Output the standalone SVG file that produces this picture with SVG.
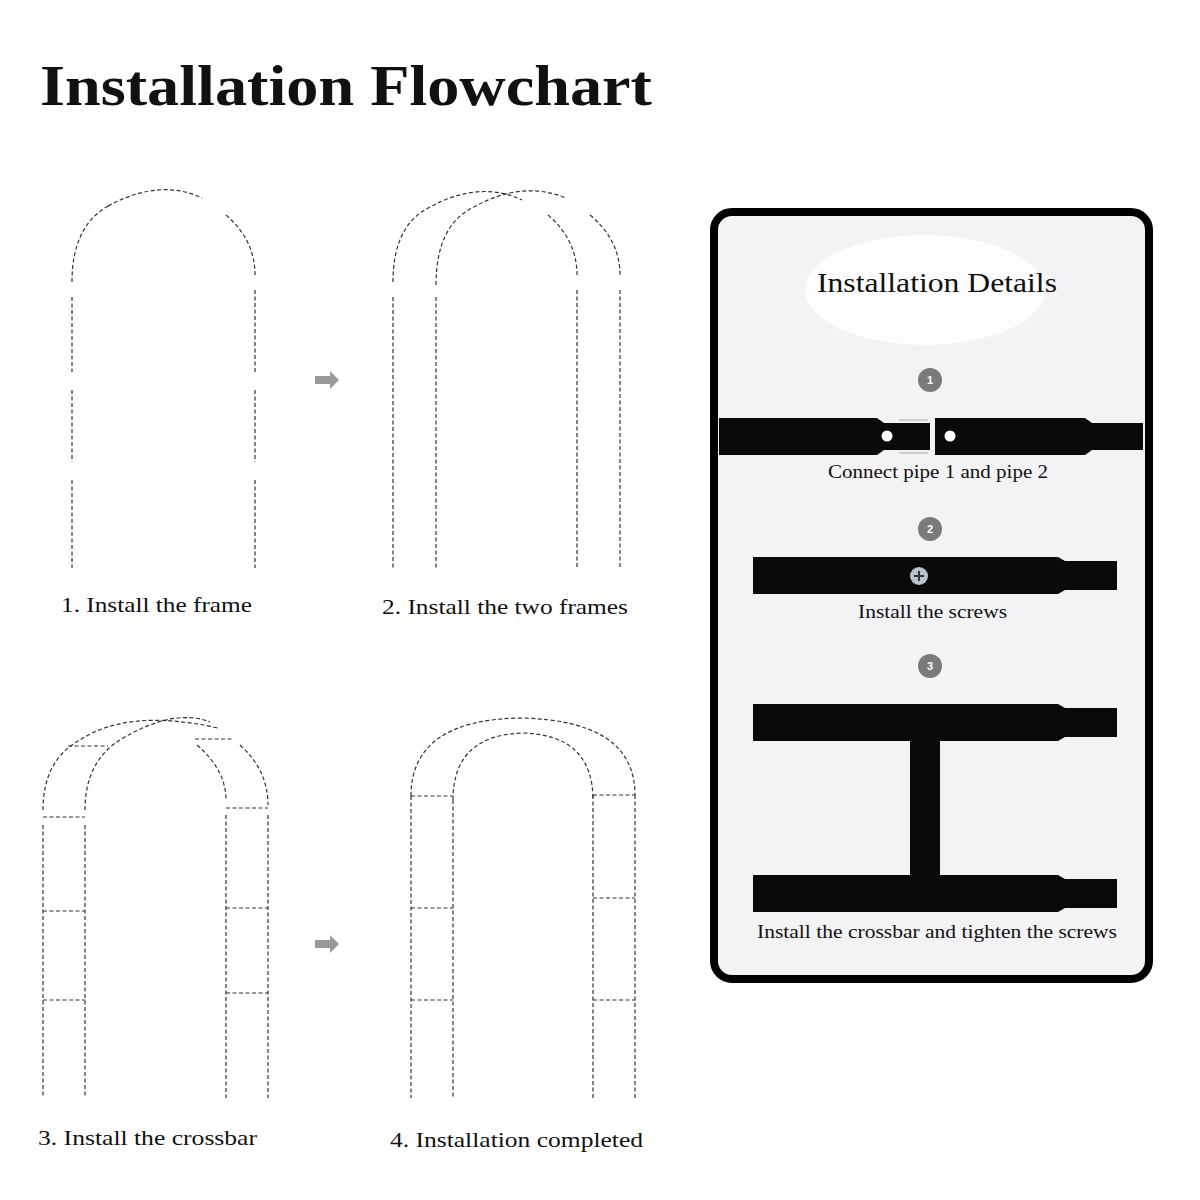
<svg xmlns="http://www.w3.org/2000/svg" width="1200" height="1200" viewBox="0 0 1200 1200">
<style>
.d{fill:none;stroke:#333;stroke-width:1.2;stroke-dasharray:4 2.5}
.t{font-family:"Liberation Serif",serif;fill:#111}
.p{fill:#0a0a0a}
.n{fill:#7a7a7a}
.nt{font-family:"Liberation Sans",sans-serif;font-size:11px;fill:#fff;text-anchor:middle;font-weight:bold}
.ar{fill:#999}
.ar2{fill:#ccc}
</style>
<rect width="1200" height="1200" fill="#fff"/>
<text class="t" x="40" y="105" font-size="56" font-weight="bold" textLength="612" lengthAdjust="spacingAndGlyphs">Installation Flowchart</text>

<g id="frame1">
<path class="d" d="M72,282 Q72,225 110,205"/>
<path class="d" d="M108,206 Q160,178 202,198"/>
<path class="d" d="M226,215 Q255,240 255,275"/>
<path class="d" d="M72,297V372M72,390V462M72,480V568M255,290V372M255,390V462M255,480V568"/>
<text class="t" x="61" y="612" font-size="22" textLength="191" lengthAdjust="spacingAndGlyphs">1. Install the frame</text>
</g>

<g id="frame2">
<path class="d" d="M393,282 Q393,225 430,207 Q480,180 522,200"/>
<path class="d" d="M436,285 Q436,225 474,207 Q522,180 566,198"/>
<path class="d" d="M548,215 Q577,240 577,275"/>
<path class="d" d="M590,215 Q620,240 620,275"/>
<path class="d" d="M393,297V568M436,297V568M577,290V568M620,290V568"/>
<text class="t" x="382" y="614" font-size="22" textLength="246" lengthAdjust="spacingAndGlyphs">2. Install the two frames</text>
</g>

<g id="frame3">
<path class="d" d="M43,810 Q43,760 80,740 Q128,708 218,728"/>
<path class="d" d="M85,810 Q85,760 123,738 Q175,708 210,722"/>
<path class="d" d="M197,745 Q226,770 226,800"/>
<path class="d" d="M240,745 Q268,770 268,805"/>
<path class="d" d="M68,746H108M195,739H232"/>
<path class="d" d="M43,817H85M43,911H85M43,1000H85M226,808H268M226,908H268M226,993H268"/>
<path class="d" d="M43,825V1098M85,825V1098M226,815V1098M268,815V1098"/>
<text class="t" x="38" y="1145" font-size="22" textLength="219" lengthAdjust="spacingAndGlyphs">3. Install the crossbar</text>
</g>

<g id="frame4">
<path class="d" d="M411,796 Q411,720 520,718 Q635,720 635,795"/>
<path class="d" d="M453,800 Q453,735 523,733 Q593,735 593,800"/>
<path class="d" d="M411,796H453M411,908H453M411,1000H453M593,795H635M593,898H635M593,1000H635"/>
<path class="d" d="M411,796V1098M453,800V1098M593,795V1098M635,795V1098"/>
<text class="t" x="390" y="1147" font-size="22" textLength="253" lengthAdjust="spacingAndGlyphs">4. Installation completed</text>
</g>

<g id="connectors">
<path class="ar" d="M315,376H330V371L339,380L330,389V384H315Z"/>
<path class="ar" d="M315,940H330V935L339,944L330,953V948H315Z"/>
<path class="ar2" d="M927,490H933V499H937L930,506L923,499H927Z"/>
<path class="ar2" d="M927,628H933V635H937L930,642L923,635H927Z"/>
</g>

<g id="details">
<rect x="714" y="212" width="435" height="767" rx="18" fill="#f3f2f4" stroke="#000" stroke-width="8"/>
<ellipse cx="925" cy="290" rx="120" ry="55" fill="#fff" opacity="0.8"/>
<text class="t" x="817" y="292" font-size="28" textLength="240" lengthAdjust="spacingAndGlyphs">Installation Details</text>

<circle class="n" cx="930" cy="380" r="12"/><text class="nt" x="930" y="384">1</text>
<rect class="p" x="719" y="418" width="158" height="37"/>
<path class="p" d="M877,418L884,423H930V450H884L877,455Z"/>
<rect class="p" x="935" y="418" width="150" height="37"/>
<path class="p" d="M1085,418L1092,423H1143V450H1092L1085,455Z"/>
<path d="M899,420H928M899,453H928" stroke="#aaa" stroke-width="1.2"/>
<circle cx="887" cy="436" r="5.5" fill="#fff"/>
<circle cx="950" cy="436" r="5.5" fill="#fff"/>
<text class="t" x="828" y="478" font-size="18" textLength="220" lengthAdjust="spacingAndGlyphs">Connect pipe 1 and pipe 2</text>

<circle class="n" cx="930" cy="529" r="12"/><text class="nt" x="930" y="533">2</text>
<rect class="p" x="753" y="557" width="305" height="37"/>
<path class="p" d="M1058,557L1065,561H1117V590H1065L1058,594Z"/>
<circle cx="919" cy="576" r="9" fill="#b8c2c8"/>
<path d="M914,576H924M919,571V581" stroke="#333" stroke-width="2"/>
<text class="t" x="858" y="618" font-size="18" textLength="149" lengthAdjust="spacingAndGlyphs">Install the screws</text>

<circle class="n" cx="930" cy="666" r="12"/><text class="nt" x="930" y="670">3</text>
<rect class="p" x="753" y="704" width="305" height="37"/>
<path class="p" d="M1058,704L1065,708H1117V737H1065L1058,741Z"/>
<rect class="p" x="910" y="741" width="30" height="135"/>
<rect class="p" x="753" y="875" width="305" height="37"/>
<path class="p" d="M1058,875L1065,879H1117V908H1065L1058,912Z"/>
<text class="t" x="757" y="938" font-size="18" textLength="360" lengthAdjust="spacingAndGlyphs">Install the crossbar and tighten the screws</text>
</g>
</svg>
